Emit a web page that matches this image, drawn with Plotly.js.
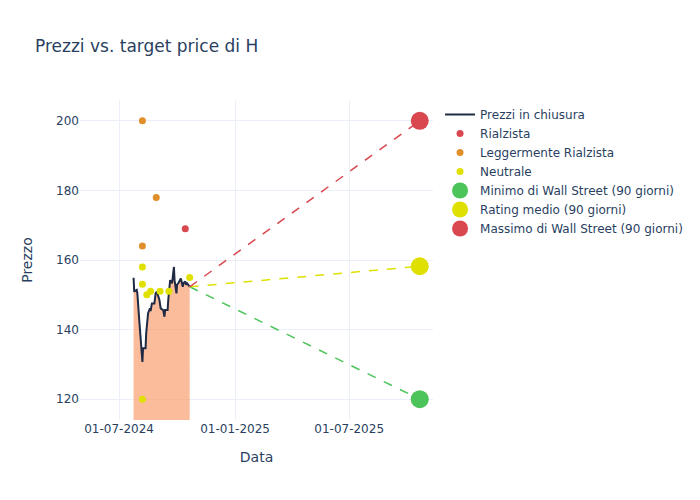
<!DOCTYPE html>
<html>
<head>
<meta charset="utf-8">
<script src="https://cdn.plot.ly/plotly-3.0.1.min.js"></script>
<style>body{margin:0}#chart{width:700px;height:500px}</style>
</head>
<body>
<div id="chart"></div>
<script>
// closing prices
const priceDates = ['2024-07-24','2024-07-25','2024-07-29','2024-07-30','2024-08-02','2024-08-05','2024-08-06','2024-08-07','2024-08-08','2024-08-12','2024-08-13','2024-08-15','2024-08-16','2024-08-19','2024-08-20','2024-08-22','2024-08-26','2024-08-28','2024-08-30','2024-09-03','2024-09-05','2024-09-09','2024-09-11','2024-09-12','2024-09-16','2024-09-17','2024-09-19','2024-09-20','2024-09-23','2024-09-24','2024-09-26','2024-09-27','2024-09-30','2024-10-01','2024-10-03','2024-10-07','2024-10-08','2024-10-10','2024-10-11','2024-10-14','2024-10-15','2024-10-17','2024-10-21'];
const prices = [154.9,150.9,151.4,150.4,142.7,135.5,134.6,130.7,134.6,134.6,138.9,143.2,144.7,146.1,145.3,147.5,147.5,150.4,150.9,148.5,146.1,145.6,143.7,145.6,145.6,148.5,153.3,154.2,153.3,154.7,158.0,154.2,150.4,152.9,153.3,154.7,153.8,152.3,153.3,153.8,152.9,153.3,152.3];

// analyst ratings
const bullDates = ['2024-10-14'];
const bullVals = [169];
const modBullDates = ['2024-08-07','2024-08-29','2024-08-07'];
const modBullVals = [200,178,164];
const neutralDates = ['2024-08-07','2024-08-07','2024-08-14','2024-08-20','2024-09-04','2024-09-18','2024-10-21','2024-08-07'];
const neutralVals = [158,153,150,151,151,151,155,120];

// 90-day targets
const targetDate = '2025-10-21';
const lastDate = '2024-10-21';
const lastPrice = 152.3;
const targetLow = 120;
const targetAvg = 158.2;
const targetHigh = 200;

const red = '#d9474f', orange = '#e0902a', yellow = '#e0e000', green = '#4cc45a';

const traces = [
  {x:priceDates,y:prices,type:'scatter',mode:'none',fill:'tozeroy',fillcolor:'rgba(248,160,112,0.7)',showlegend:false,hoverinfo:'skip'},
  {x:priceDates,y:prices,type:'scatter',mode:'lines',line:{color:'#1f2a44',width:2},name:'Prezzi in chiusura'},
  {x:bullDates,y:bullVals,type:'scatter',mode:'markers',marker:{color:red,size:7},name:'Rialzista'},
  {x:modBullDates,y:modBullVals,type:'scatter',mode:'markers',marker:{color:orange,size:7},name:'Leggermente Rialzista'},
  {x:neutralDates,y:neutralVals,type:'scatter',mode:'markers',marker:{color:yellow,size:7},name:'Neutrale'},
  {x:[lastDate,targetDate],y:[lastPrice,targetLow],type:'scatter',mode:'lines',line:{color:green,dash:'dash',width:1.5},showlegend:false},
  {x:[lastDate,targetDate],y:[lastPrice,targetAvg],type:'scatter',mode:'lines',line:{color:yellow,dash:'dash',width:1.5},showlegend:false},
  {x:[lastDate,targetDate],y:[lastPrice,targetHigh],type:'scatter',mode:'lines',line:{color:red,dash:'dash',width:1.5},showlegend:false},
  {x:[targetDate],y:[targetLow],type:'scatter',mode:'markers',marker:{color:green,size:18},name:'Minimo di Wall Street (90 giorni)'},
  {x:[targetDate],y:[targetAvg],type:'scatter',mode:'markers',marker:{color:yellow,size:18},name:'Rating medio (90 giorni)'},
  {x:[targetDate],y:[targetHigh],type:'scatter',mode:'markers',marker:{color:red,size:18},name:'Massimo di Wall Street (90 giorni)'}
];

const layout = {
  width:700,height:500,
  font:{family:'DejaVu Sans, sans-serif',color:'#2a3f5f',size:12},
  title:{text:'Prezzi vs. target price di H',x:0.05,y:0.92,font:{size:17}},
  paper_bgcolor:'white',plot_bgcolor:'white',
  margin:{l:80,r:20,t:100,b:80},
  xaxis:{title:{text:'Data',font:{size:14},standoff:17},automargin:true,type:'date',range:['2024-04-30','2025-11-11'],tickvals:['2024-07-01','2025-01-01','2025-07-01'],tickformat:'%d-%m-%Y',gridcolor:'#ebf0f8',zeroline:false},
  yaxis:{title:{text:'Prezzo',font:{size:14},standoff:20},automargin:true,range:[114,206],dtick:20,gridcolor:'#ebf0f8',zeroline:false},
  legend:{x:1.02,y:1,font:{size:12}}
};

Plotly.newPlot('chart',traces,layout,{displayModeBar:false});
</script>
</body>
</html>
